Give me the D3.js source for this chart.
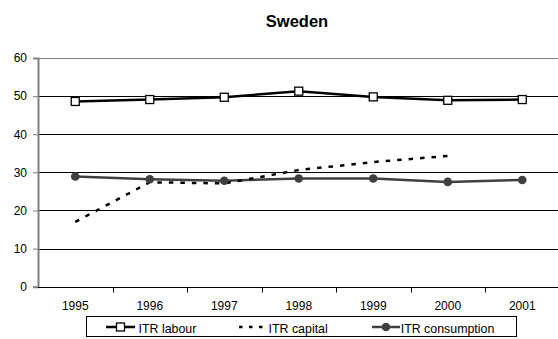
<!DOCTYPE html>
<html>
<head>
<meta charset="utf-8">
<script src="https://cdn.jsdelivr.net/npm/d3@7"></script>
<style>
  html, body { margin: 0; padding: 0; background: #fff; }
  svg { display: block; font-family: "Liberation Sans", Arial, sans-serif; }
</style>
</head>
<body>
<svg id="chart" width="558" height="339"></svg>
<script>
// Implicit tax rates, Sweden (%)
const years = ["1995", "1996", "1997", "1998", "1999", "2000", "2001"];
const itrLabour = [48.6, 49.1, 49.7, 51.3, 49.8, 48.9, 49.1];
const itrCapital = [17.0, 27.4, 27.1, 30.6, 32.7, 34.3, null];
const itrConsumption = [28.9, 28.2, 27.8, 28.4, 28.4, 27.5, 28.0];
const yTicks = [0, 10, 20, 30, 40, 50, 60];
const seriesNames = ["ITR labour", "ITR capital", "ITR consumption"];

const svg = d3.select("#chart");
const plotLeft = 38, plotRight = 559.5, plotTop = 58, plotBottom = 286.7;
const dash = "4.5,7";
const greyLine = "#404040";

const x = d3.scaleBand().domain(years).range([plotLeft, plotRight]);
const y = d3.scaleLinear().domain([0, 60]).range([plotBottom, plotTop]);
const cx = d => x(d) + x.bandwidth() / 2;

// Title
svg.append("text")
  .attr("x", 297).attr("y", 27)
  .attr("text-anchor", "middle")
  .attr("font-size", 16.5).attr("font-weight", "bold")
  .text("Sweden");

// Horizontal gridlines
svg.append("g").selectAll("line")
  .data(yTicks.filter(t => t > 0))
  .join("line")
  .attr("x1", plotLeft).attr("x2", plotRight)
  .attr("y1", d => Math.round(y(d)) + 0.5).attr("y2", d => Math.round(y(d)) + 0.5)
  .attr("stroke", d => d === 60 ? "#808080" : "#000")
  .attr("stroke-width", 1);

// Y axis
const yAxis = svg.append("g")
  .attr("transform", `translate(${plotLeft},0)`)
  .call(d3.axisLeft(y).tickValues(yTicks).tickSize(5).tickPadding(6));
yAxis.select(".domain").attr("stroke", "#808080").attr("stroke-width", 2);
yAxis.selectAll(".tick line").attr("stroke", "#808080");
yAxis.selectAll("text").attr("font-size", 12).attr("fill", "#000")
  .attr("font-family", "Liberation Sans, Arial, sans-serif");

// X axis with ticks between categories
const xg = svg.append("g").attr("transform", `translate(0,${Math.round(plotBottom) + 0.5})`);
xg.append("line").attr("x1", plotLeft).attr("x2", plotRight).attr("stroke", "#000");
xg.selectAll("line.tk")
  .data(years.slice(1))
  .join("line").attr("class", "tk")
  .attr("x1", d => Math.round(x(d)) + 0.5).attr("x2", d => Math.round(x(d)) + 0.5)
  .attr("y1", 0).attr("y2", 5).attr("stroke", "#000");
xg.selectAll("text")
  .data(years)
  .join("text")
  .attr("x", d => cx(d)).attr("y", 22.5)
  .attr("text-anchor", "middle").attr("font-size", 12)
  .text(d => d);

// Lines
const line = d3.line()
  .defined(d => d.v != null)
  .x(d => cx(d.year)).y(d => y(d.v));
const toPts = arr => years.map((yr, i) => ({ year: yr, v: arr[i] }));

svg.append("path").datum(toPts(itrConsumption))
  .attr("d", line).attr("fill", "none")
  .attr("stroke", greyLine).attr("stroke-width", 2.5);

svg.append("path").datum(toPts(itrCapital))
  .attr("d", line).attr("fill", "none")
  .attr("stroke", "#000").attr("stroke-width", 2.5)
  .attr("stroke-dasharray", dash);

svg.append("path").datum(toPts(itrLabour))
  .attr("d", line).attr("fill", "none")
  .attr("stroke", "#000").attr("stroke-width", 2.5);

// Markers
svg.append("g").selectAll("circle")
  .data(toPts(itrConsumption))
  .join("circle")
  .attr("cx", d => cx(d.year)).attr("cy", d => y(d.v)).attr("r", 4.3)
  .attr("fill", greyLine);

svg.append("g").selectAll("rect")
  .data(toPts(itrLabour))
  .join("rect")
  .attr("x", d => cx(d.year) - 4).attr("y", d => y(d.v) - 4)
  .attr("width", 8).attr("height", 8)
  .attr("fill", "#fff").attr("stroke", "#000").attr("stroke-width", 1.3);

// Legend
const lg = svg.append("g");
lg.append("rect").attr("x", 86.5).attr("y", 316.5).attr("width", 430).attr("height", 20)
  .attr("fill", "#fff").attr("stroke", "#000").attr("stroke-width", 1);

const ly = 327;
// labour
lg.append("line").attr("x1", 106).attr("x2", 135).attr("y1", ly).attr("y2", ly)
  .attr("stroke", "#000").attr("stroke-width", 2.5);
lg.append("rect").attr("x", 116.5).attr("y", ly - 4).attr("width", 8).attr("height", 8)
  .attr("fill", "#fff").attr("stroke", "#000").attr("stroke-width", 1.3);
// capital
lg.append("line").attr("x1", 239).attr("x2", 268).attr("y1", ly).attr("y2", ly)
  .attr("stroke", "#000").attr("stroke-width", 2.5).attr("stroke-dasharray", "3.5,6.5");
// consumption
lg.append("line").attr("x1", 372).attr("x2", 400).attr("y1", ly).attr("y2", ly)
  .attr("stroke", greyLine).attr("stroke-width", 2.5);
lg.append("circle").attr("cx", 386).attr("cy", ly).attr("r", 4.3).attr("fill", greyLine);

const textX = [138.5, 268.5, 400.7];
lg.selectAll("text.lbl")
  .data(seriesNames)
  .join("text").attr("class", "lbl")
  .attr("x", (d, i) => textX[i]).attr("y", 333)
  .attr("font-size", 12.4)
  .text(d => d);
</script>
</body>
</html>
